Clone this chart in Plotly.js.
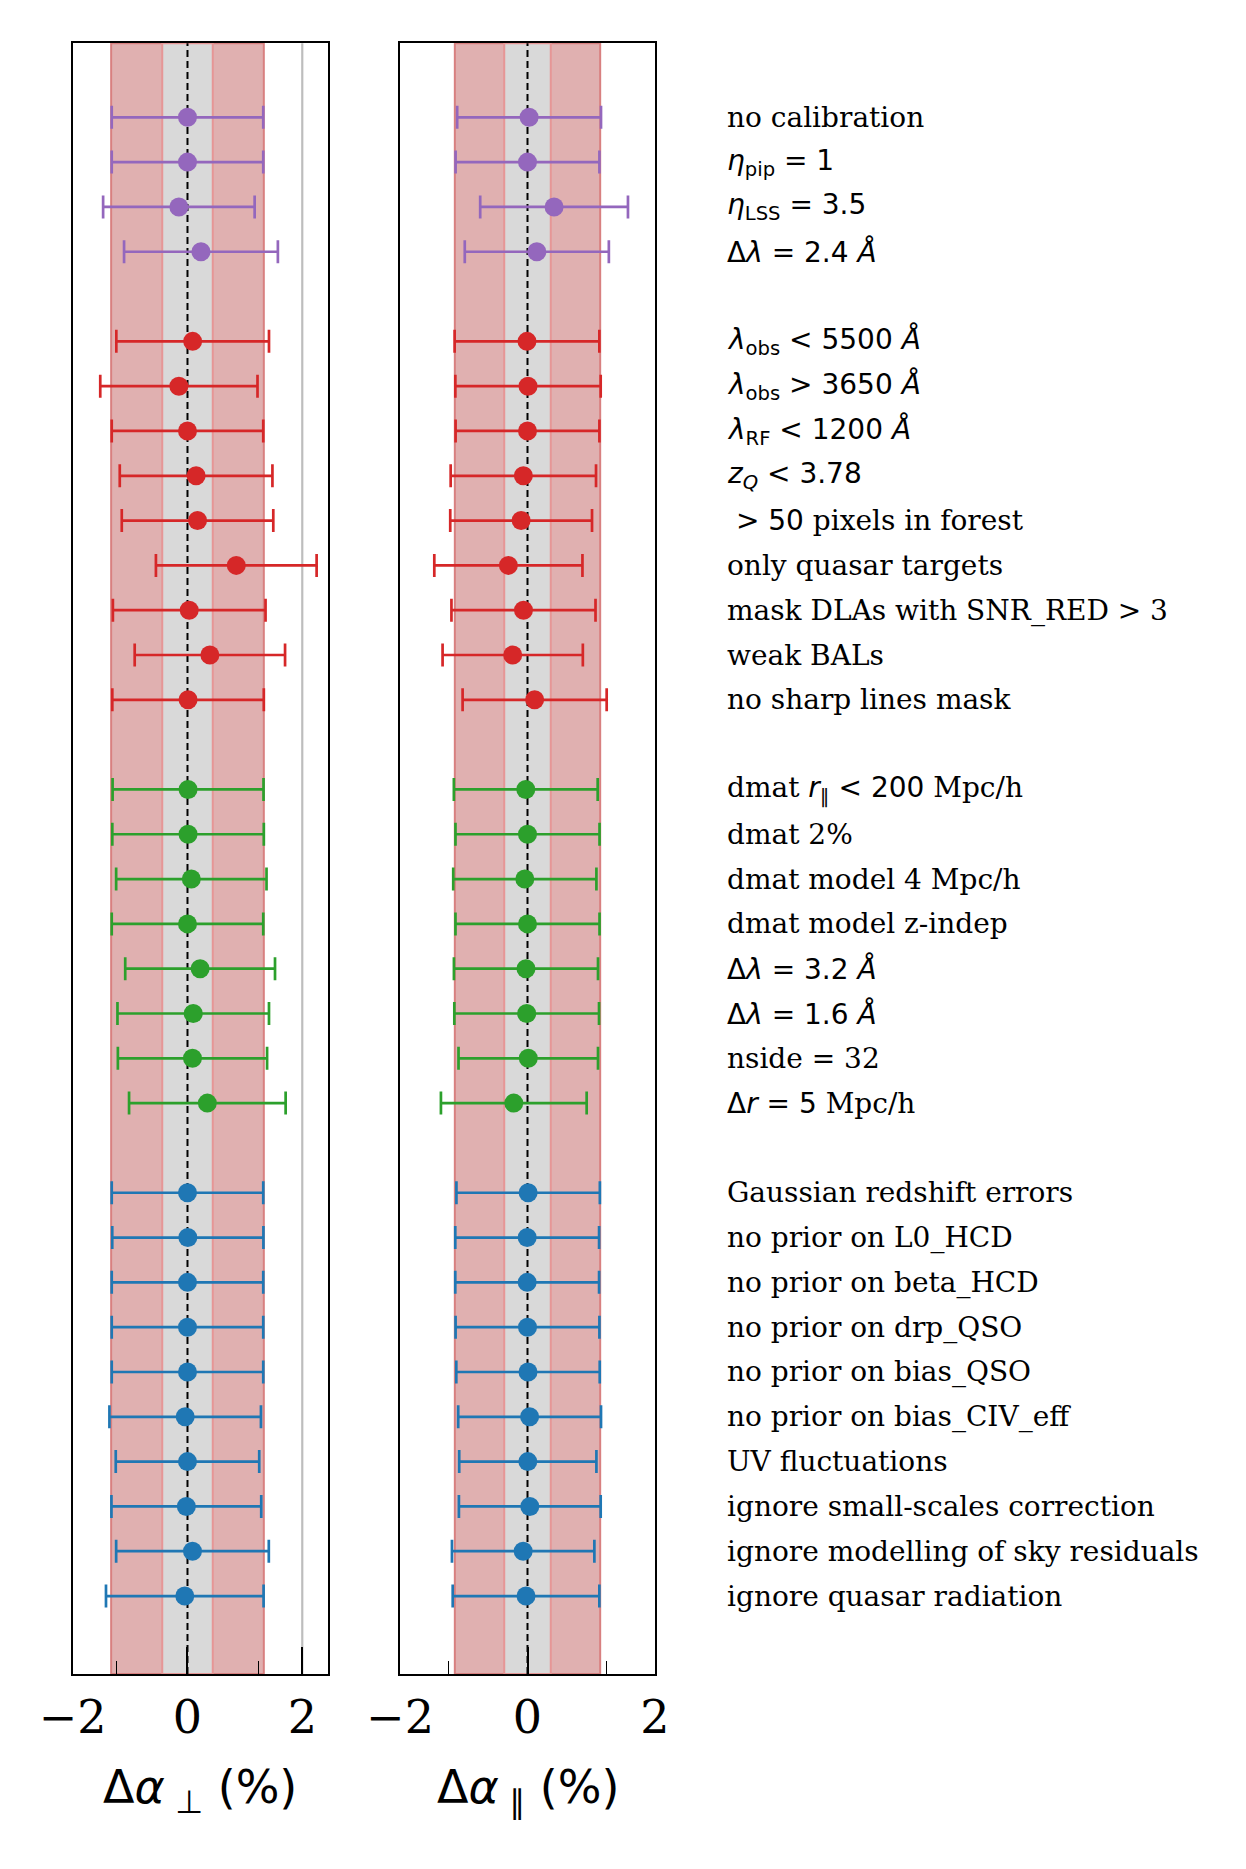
<!DOCTYPE html>
<html>
<head>
<meta charset="utf-8">
<script src="https://cdn.plot.ly/plotly-3.0.1.min.js"></script>
<style>html,body{margin:0;padding:0;background:#fff;}#chart{width:1246px;height:1869px;}</style>
</head>
<body>
<div id="chart"></div>
<script>
// ---------- data ----------
const SANS = 'span style="font-family:DejaVu Sans"';
const purpleLabels = [
  'no calibration',
  '<' + SANS + '><i>η</i><sub>pip</sub> = 1</span>',
  '<' + SANS + '><i>η</i><sub>LSS</sub> = 3.5</span>',
  '<' + SANS + '>Δ<i>λ</i> = 2.4 <i>Å</i></span>'
];
const purplePerp    = [0.0, 0.0, -0.15, 0.235];
const purplePerpErr = [1.32, 1.32, 1.32, 1.34];
const purplePar     = [0.025, 0.0, 0.417, 0.146];
const purpleParErr  = [1.128, 1.128, 1.159, 1.13];

const redLabels = [
  '<' + SANS + '><i>λ</i><sub>obs</sub> &lt; 5500 <i>Å</i></span>',
  '<' + SANS + '><i>λ</i><sub>obs</sub> &gt; 3650 <i>Å</i></span>',
  '<' + SANS + '><i>λ</i><sub>RF</sub> &lt; 1200 <i>Å</i></span>',
  '<' + SANS + '><i>z</i><sub><i>Q</i></sub> &lt; 3.78</span>',
  '<' + SANS + '> &gt; 50</span> pixels in forest',
  'only quasar targets',
  'mask DLAs with SNR_RED &gt; 3',
  'weak BALs',
  'no sharp lines mask'
];
const redPerp    = [0.09, -0.15, 0.0, 0.15, 0.175, 0.85, 0.03, 0.39, 0.01];
const redPerpErr = [1.33, 1.37, 1.32, 1.33, 1.32, 1.40, 1.33, 1.31, 1.32];
const redPar     = [-0.008, 0.008, 0.0, -0.065, -0.10, -0.30, -0.063, -0.232, 0.112];
const redParErr  = [1.135, 1.14, 1.128, 1.14, 1.112, 1.162, 1.13, 1.10, 1.13];

const greenLabels = [
  'dmat <' + SANS + '><i>r</i><sub>∥</sub> &lt; 200</span> Mpc/h',
  'dmat 2%',
  'dmat model 4 Mpc/h',
  'dmat model z-indep',
  '<' + SANS + '>Δ<i>λ</i> = 3.2 <i>Å</i></span>',
  '<' + SANS + '>Δ<i>λ</i> = 1.6 <i>Å</i></span>',
  'nside = 32',
  '<' + SANS + '>Δ<i>r</i> = 5</span> Mpc/h'
];
const greenPerp    = [0.01, 0.01, 0.067, 0.0, 0.22, 0.10, 0.087, 0.346];
const greenPerpErr = [1.315, 1.32, 1.31, 1.32, 1.305, 1.32, 1.30, 1.364];
const greenPar     = [-0.027, 0.0, -0.042, 0.0, -0.024, -0.013, 0.012, -0.215];
const greenParErr  = [1.128, 1.13, 1.123, 1.13, 1.13, 1.135, 1.094, 1.143];

const blueLabels = [
  'Gaussian redshift errors',
  'no prior on L0_HCD',
  'no prior on beta_HCD',
  'no prior on drp_QSO',
  'no prior on bias_QSO',
  'no prior on bias_CIV_eff',
  'UV fluctuations',
  'ignore small-scales correction',
  'ignore modelling of sky residuals',
  'ignore quasar radiation'
];
const bluePerp    = [0.0, 0.006, 0.0, 0.0, 0.0, -0.04, 0.0, -0.02, 0.087, -0.047];
const bluePerpErr = [1.32, 1.317, 1.32, 1.32, 1.32, 1.32, 1.25, 1.305, 1.33, 1.373];
const bluePar     = [0.01, -0.005, -0.005, 0.0, 0.008, 0.033, 0.005, 0.036, -0.068, -0.023];
const blueParErr  = [1.125, 1.128, 1.128, 1.128, 1.125, 1.12, 1.076, 1.112, 1.117, 1.15];

// baseline uncertainty bands (sigma and sigma/3)
const perpSigma = 1.33, perpThird = 0.44;
const parSigma  = 1.14, parThird  = 0.365;

const tickValues  = [-2, 0, 2];
const minorTicks  = [-1.24, 1.24];
const perpTitle = 'Δ<i>α</i><sub> ⊥</sub> (%)';
const parTitle  = 'Δ<i>α</i><sub> ∥</sub> (%)';

// ---------- build ----------
const groups = [
  {labels: purpleLabels, perp: purplePerp, perpErr: purplePerpErr, par: purplePar, parErr: purpleParErr, color: '#9467bd'},
  {labels: redLabels,    perp: redPerp,    perpErr: redPerpErr,    par: redPar,    parErr: redParErr,    color: '#d62728'},
  {labels: greenLabels,  perp: greenPerp,  perpErr: greenPerpErr,  par: greenPar,  parErr: greenParErr,  color: '#2ca02c'},
  {labels: blueLabels,   perp: bluePerp,   perpErr: bluePerpErr,   par: bluePar,   parErr: blueParErr,   color: '#1f77b4'}
];

const traces = [];
const annotations = [];
let slot = 0;
groups.forEach(g => {
  const ys = g.labels.map((_, i) => slot + i);
  [['x', 'y', g.perp, g.perpErr], ['x2', 'y2', g.par, g.parErr]].forEach(([xa, ya, vals, errs]) => {
    traces.push({
      type: 'scatter', mode: 'markers', xaxis: xa, yaxis: ya,
      x: vals, y: ys,
      marker: {color: g.color, size: 19, line: {width: 0}},
      error_x: {type: 'data', array: errs, symmetric: true, color: g.color, thickness: 2.7, width: 11.5},
      hoverinfo: 'skip', cliponaxis: false
    });
  });
  g.labels.forEach((lab, i) => {
    annotations.push({
      xref: 'paper', yref: 'y', x: 725 / 1246, y: ys[i],
      xanchor: 'left', yanchor: 'middle', showarrow: false,
      text: lab, font: {family: 'DejaVu Serif', size: 28, color: '#000'}
    });
  });
  slot += g.labels.length + 1;
});

annotations.push({xref: 'x domain', yref: 'paper', x: 0.5, y: 1 - 1790/1869, xanchor: 'center', yanchor: 'middle',
  showarrow: false, text: perpTitle, font: {family: 'DejaVu Sans', size: 46, color: '#000'}});
annotations.push({xref: 'x2 domain', yref: 'paper', x: 0.5, y: 1 - 1790/1869, xanchor: 'center', yanchor: 'middle',
  showarrow: false, text: parTitle, font: {family: 'DejaVu Sans', size: 46, color: '#000'}});

function bandShapes(xa, sigma, third, extraLine) {
  const yref = (xa === 'x' ? 'y' : 'y2') + ' domain';
  const s = [
    {type: 'rect', xref: xa, yref: yref, x0: -sigma, x1: sigma, y0: 0, y1: 1, layer: 'below',
     fillcolor: 'rgb(224,176,176)', line: {color: 'rgb(216,128,128)', width: 2}},
    {type: 'rect', xref: xa, yref: yref, x0: -third, x1: third, y0: 0, y1: 1, layer: 'below',
     fillcolor: 'rgb(217,217,217)', line: {color: 'rgb(230,150,150)', width: 2}},
    {type: 'line', xref: xa, yref: yref, x0: 0, x1: 0, y0: 0, y1: 1, layer: 'below',
     line: {color: '#000', width: 2, dash: '7px,4px'}}
  ];
  if (extraLine !== undefined) {
    s.push({type: 'line', xref: xa, yref: yref, x0: extraLine, x1: extraLine, y0: 0, y1: 1, layer: 'below',
      line: {color: '#bdbdbd', width: 2.2}});
  }
  return s;
}
const shapes = [].concat(bandShapes('x', perpSigma, perpThird, 2), bandShapes('x2', parSigma, parThird));

const yTop = 43.3, yBot = 1674, slotPx = 44.81;
const yMin = -(117.3 - yTop) / slotPx;
const yMax = yMin + (yBot - yTop) / slotPx;
const yDomain = [1 - yBot / 1869, 1 - yTop / 1869];

function xAxis(domain, range, anchor) {
  return {
    domain: domain, range: range, anchor: anchor,
    showgrid: false, zeroline: false,
    showline: true, mirror: true, linecolor: '#000', linewidth: 2,
    tickmode: 'array', tickvals: tickValues,
    ticks: 'inside', ticklen: 27, tickwidth: 2, tickcolor: '#000',
    minor: {tickmode: 'array', tickvals: minorTicks, ticks: 'inside', ticklen: 13, tickwidth: 1.6, tickcolor: '#000'},
    tickfont: {family: 'DejaVu Serif', size: 46, color: '#000'},
    ticklabelstandoff: 2,
    fixedrange: true
  };
}
function yAxis(anchor) {
  return {
    domain: yDomain, range: [yMax, yMin], anchor: anchor,
    showgrid: false, zeroline: false, showticklabels: false, ticks: '',
    showline: true, mirror: true, linecolor: '#000', linewidth: 2,
    fixedrange: true
  };
}

const layout = {
  width: 1246, height: 1869,
  margin: {l: 0, r: 0, t: 0, b: 0},
  paper_bgcolor: '#fff', plot_bgcolor: '#fff',
  showlegend: false, hovermode: false,
  xaxis: xAxis([72.7 / 1246, 327.7 / 1246], [-2, 2.443], 'y'),
  xaxis2: xAxis([400 / 1246, 655 / 1246], [-2, 2], 'y2'),
  yaxis: yAxis('x'),
  yaxis2: yAxis('x2'),
  shapes: shapes,
  annotations: annotations
};

Plotly.newPlot('chart', traces, layout, {staticPlot: true, displayModeBar: false});
</script>
</body>
</html>
